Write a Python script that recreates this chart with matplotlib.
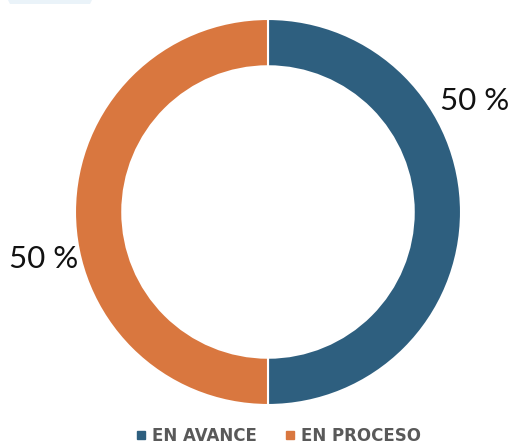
import matplotlib
matplotlib.use("Agg")
import matplotlib.pyplot as plt
from matplotlib.patches import Polygon
from matplotlib.lines import Line2D

categories = ["EN AVANCE", "EN PROCESO"]
values = [50, 50]
labels = ["50 %", "50 %"]
colors = ["#2E5F7F", "#D9773F"]

W, H = 511, 445
fig = plt.figure(figsize=(W / 100, H / 100), dpi=100)
fig.patch.set_facecolor("white")

# faint band at top-left
fig.patches.append(Polygon([(8 / W, 1), (92 / W, 1), (90 / W, 1 - 4 / H), (10 / W, 1 - 4 / H)],
                           closed=True, transform=fig.transFigure,
                           facecolor="#EAF3F9", edgecolor="none"))

cx, cy, R = 268, 212, 193
ax = fig.add_axes([(cx - R) / W, 1 - (cy + R) / H, 2 * R / W, 2 * R / H])
wedges, _ = ax.pie(values, colors=colors, startangle=90, counterclock=False,
                   radius=1.0, wedgeprops=dict(width=0.245, edgecolor="white", linewidth=1.5))
ax.set_xlim(-1, 1)
ax.set_ylim(-1, 1)
ax.set_aspect("equal")
ax.axis("off")

font = ["Lato", "DejaVu Sans"]
fig.text(475 / W, 1 - 101 / H, labels[0], ha="center", va="center", fontsize=22.5,
         family=font, fontweight="normal", color="#111111")
fig.text(44 / W, 1 - 259 / H, labels[1], ha="center", va="center", fontsize=22.5,
         family=font, fontweight="normal", color="#111111")

handles = [Line2D([0], [0], marker="s", linestyle="none", markersize=6,
                  markerfacecolor=c, markeredgecolor=c) for c in colors]
leg = fig.legend(handles, categories, loc="center", bbox_to_anchor=(279 / W, 1 - 436 / H),
                 ncol=2, frameon=False, handlelength=0.5, handletextpad=0.45, columnspacing=1.7,
                 prop=dict(family="DejaVu Sans", weight="bold", size=12))
for t in leg.get_texts():
    t.set_color("#595959")

fig.savefig("out.png", dpi=100, facecolor="white")
